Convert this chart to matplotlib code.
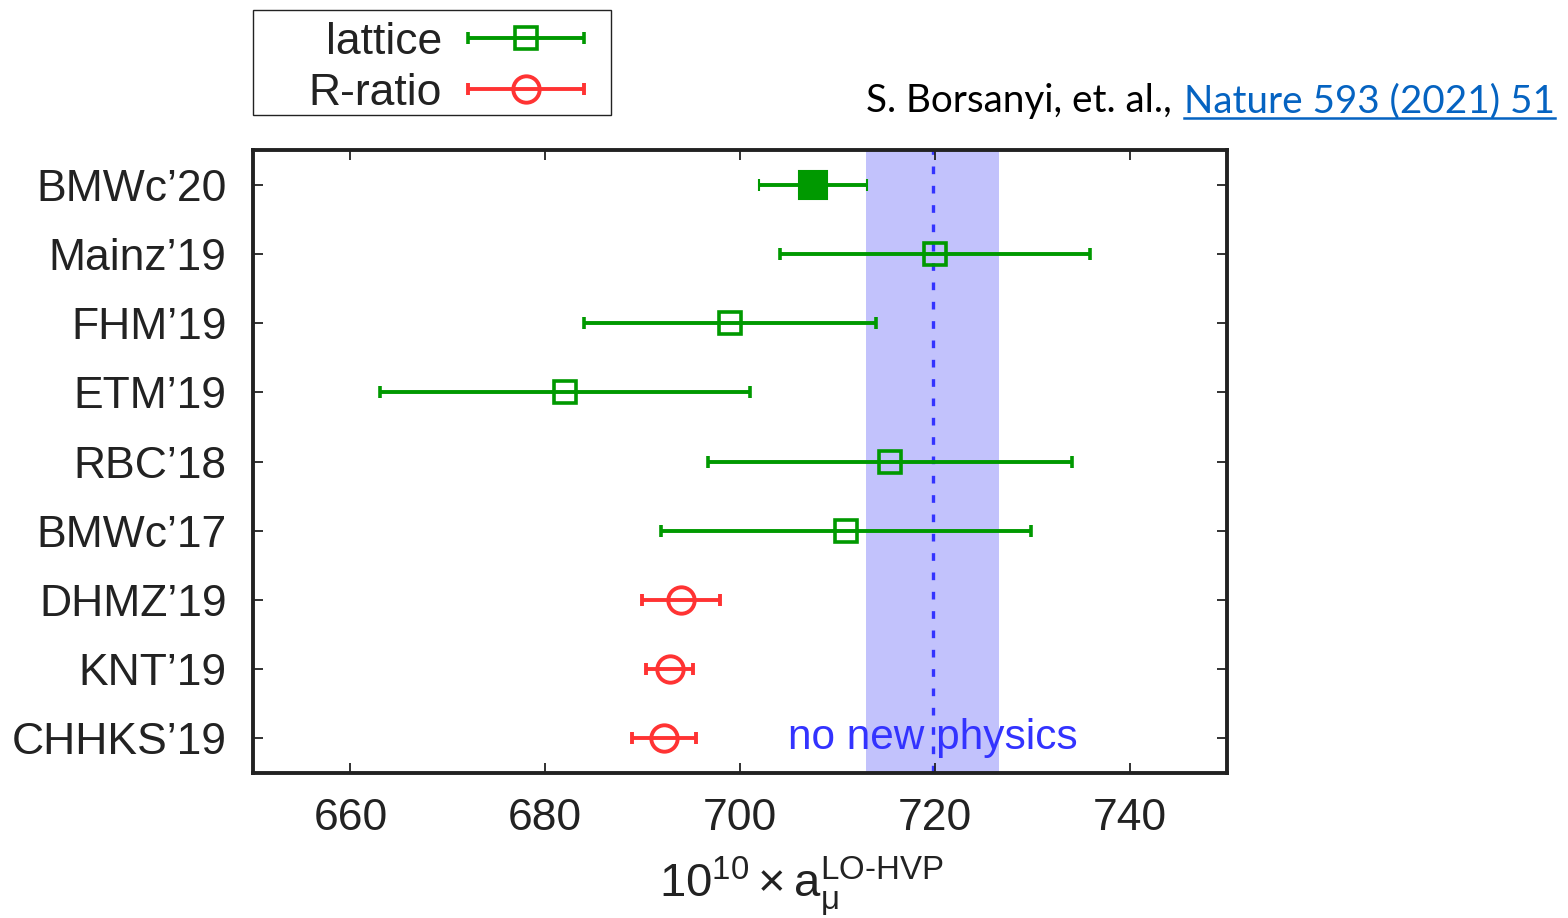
import matplotlib
matplotlib.use("Agg")
import matplotlib.pyplot as plt
from matplotlib.legend_handler import HandlerErrorbar
from matplotlib.lines import Line2D
from matplotlib.patches import Rectangle

plt.rcParams['font.family'] = ['Liberation Sans', 'DejaVu Sans']
plt.rcParams['mathtext.fontset'] = 'custom'
plt.rcParams['mathtext.rm'] = 'Liberation Sans'
plt.rcParams['mathtext.it'] = 'Liberation Sans'

# data
labels = ["BMWc\u201920", "Mainz\u201919", "FHM\u201919", "ETM\u201919", "RBC\u201918",
          "BMWc\u201917", "DHMZ\u201919", "KNT\u201919", "CHHKS\u201919"]
values = [707.5, 720.0, 699.0, 682.0, 715.4, 710.9, 693.9, 692.8, 692.2]
errors = [5.5, 15.9, 15.0, 19.0, 18.7, 19.0, 4.0, 2.4, 3.3]
kinds = ["bmw", "lattice", "lattice", "lattice", "lattice", "lattice",
         "rratio", "rratio", "rratio"]
band_lo, band_hi = 712.9, 726.6
band_mid = 719.8
xticks = [660, 680, 700, 720, 740]

green = '#009900'
red = '#ff3333'
blue = '#3333ff'
W, H = 1568, 918

fig = plt.figure(figsize=(15.68, 9.18), dpi=100)
ax = fig.add_axes([253/W, 1-773/H, 974/W, 623/H])

ax.axvspan(band_lo, band_hi, color='#c2c2fc', lw=0, zorder=0)
ax.axvline(band_mid, color=blue, lw=2.4, ls=(0, (2.3, 3.5)), zorder=1)

eb = dict(elinewidth=2.8, capsize=4, capthick=2.6, zorder=3)
ypos = list(range(1, len(labels) + 1))
handles = {}
for y, v, e, k in zip(ypos, values, errors, kinds):
    if k == "bmw":
        ax.errorbar(v, y, xerr=e, fmt='s', color=green, ms=20, mew=1.5, **eb)
    elif k == "lattice":
        h = ax.errorbar(v, y, xerr=e, fmt='s', color=green, mfc='none',
                        ms=16, mew=2.6, **eb)
        handles['lattice'] = h
    else:
        h = ax.errorbar(v, y, xerr=e, fmt='o', color=red, mfc='none',
                        ms=19, mew=2.8, **eb)
        handles['R-ratio'] = h

ax.text(band_mid, 9, 'no new physics', color=blue, fontsize=30.5,
        ha='center', va='center', zorder=4)

ax.set_xlim(650, 750)
ax.set_ylim(9.5, 0.5)
ax.set_xticks(xticks)
ax.set_yticks(ypos)
ax.set_yticklabels(labels)
ax.tick_params(direction='in', length=7, width=1.3, labelsize=32,
               top=True, right=True, colors='#222222', labelcolor='#222222')
ax.tick_params(axis='x', pad=18)
ax.tick_params(axis='y', pad=19)
for s in ax.spines.values():
    s.set_linewidth(2.8)
    s.set_color('#222222')

fig.text(801/W, 1-897/H,
         r'$10^{10}\times\mathrm{a}_{\mu}^{\text{LO-HVP}}$',
         fontsize=34, ha='center', va='baseline', color='#222222')

# legend: box drawn separately, entries right-aligned like gnuplot
fig.add_artist(Rectangle((253/W, 1-115/H), 358/W, 105/H, transform=fig.transFigure,
                         fc='white', ec='#222222', lw=1.0))
leg = fig.legend([handles['lattice'], handles['R-ratio']],
                 ['lattice', 'R-ratio'],
                 loc='upper right', bbox_to_anchor=(604/W, 1-2/H),
                 markerfirst=False, fontsize=32, handlelength=2.6,
                 handletextpad=0.6, labelspacing=0.22, borderpad=0.45,
                 borderaxespad=0, frameon=False,
                 handler_map={type(handles['lattice']): HandlerErrorbar(xerr_size=1.3)})
for t in leg.get_texts():
    t.set_color('#222222')

# citation with underlined link
link = fig.text(1555/W, 1-112/H, 'Nature 593 (2021) 51', color='#0563c1',
                fontsize=27.8, family='Lato', ha='right', va='baseline')
fig.canvas.draw()
r = fig.canvas.get_renderer()
bb = link.get_window_extent(r)
fig.text(bb.x0/W - 0.008, 1-112/H, 'S. Borsanyi, et. al.,', color='black',
         fontsize=27.8, family='Lato', ha='right', va='baseline')
uy = (bb.y0 + 1) / H
fig.add_artist(Line2D([bb.x0/W, bb.x1/W], [uy, uy],
                      transform=fig.transFigure, color='#0563c1', lw=1.8))

fig.savefig('out.png', dpi=100)
